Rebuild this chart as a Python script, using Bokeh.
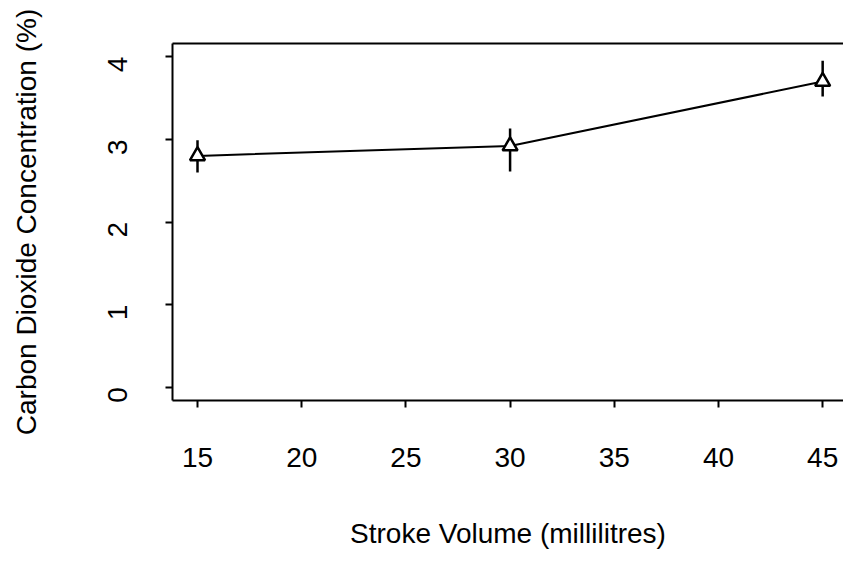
import math
from bokeh.plotting import figure
from bokeh.models import Range1d, LinearAxis, FixedTicker
from bokeh.embed import file_html
from bokeh.resources import INLINE

# Data
stroke_volume = [15, 30, 45]
co2_mean = [2.80, 2.92, 3.70]
co2_lower = [2.60, 2.61, 3.52]
co2_upper = [2.99, 3.13, 3.95]

x_ticks = [15, 20, 25, 30, 35, 40, 45]
y_ticks = [0, 1, 2, 3, 4]

FONT = "Liberation Sans"
FS = "28px"

p = figure(width=843, height=567, output_backend="svg", toolbar_location=None,
           x_range=Range1d(13.8, 46.0), y_range=Range1d(-0.16, 4.16),
           min_border_left=172, min_border_top=43, min_border_bottom=167,
           min_border_right=0, x_axis_label="Stroke Volume (millilitres)",
           y_axis_label="Carbon Dioxide Concentration (%)")
p.outline_line_color = None
p.grid.visible = False
p.background_fill_color = "white"
p.border_fill_color = "white"

for ax in (p.xaxis[0], p.yaxis[0]):
    ax.axis_line_width = 2
    ax.major_tick_line_width = 2
    ax.major_tick_in = 0
    ax.major_tick_out = 7
    ax.minor_tick_line_color = None
    ax.major_label_text_font = FONT
    ax.major_label_text_font_size = FS
    ax.major_label_text_color = "black"
    ax.axis_label_text_font = FONT
    ax.axis_label_text_font_size = FS
    ax.axis_label_text_font_style = "normal"
    ax.axis_label_text_color = "black"

p.xaxis[0].ticker = FixedTicker(ticks=x_ticks)
p.yaxis[0].ticker = FixedTicker(ticks=y_ticks)
p.xaxis[0].major_label_standoff = 40
p.xaxis[0].axis_label_standoff = 48
p.yaxis[0].major_label_standoff = 48
p.yaxis[0].major_label_orientation = math.pi / 2
p.yaxis[0].axis_label_standoff = 54

top = LinearAxis(major_tick_line_color=None, minor_tick_line_color=None,
                 major_label_text_font_size="0px", axis_line_width=2,
                 ticker=FixedTicker(ticks=[]))
p.add_layout(top, "above")

p.segment(x0=stroke_volume, y0=co2_lower, x1=stroke_volume, y1=co2_upper,
          line_color="black", line_width=2.5)
p.line(stroke_volume, co2_mean, line_color="black", line_width=2)
p.scatter(stroke_volume, co2_mean, marker="triangle", size=15,
          fill_color="white", line_color="black", line_width=2.5)

open("out.html", "w").write(file_html(p, INLINE))
